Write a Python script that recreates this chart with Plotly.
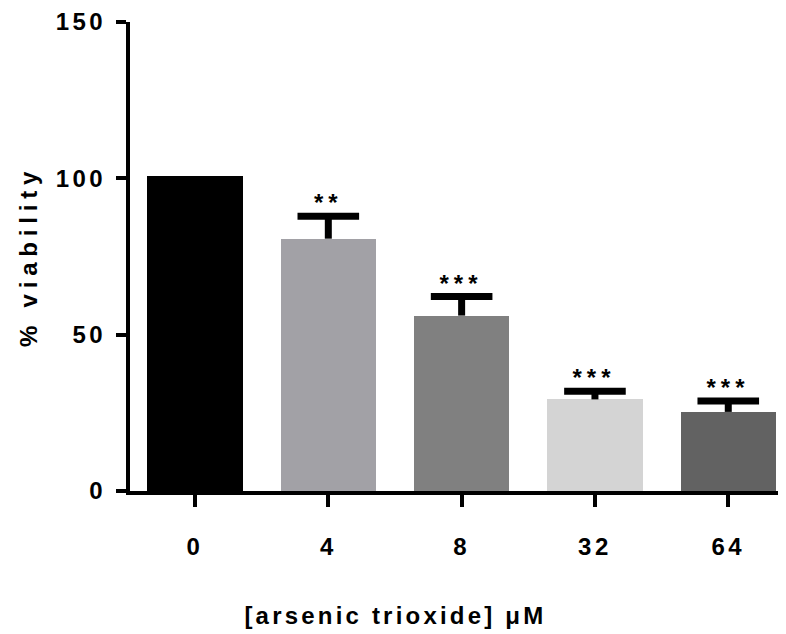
import plotly.graph_objects as go

categories = ["0", "4", "8", "32", "64"]
viability = [100.8, 80.7, 56.1, 29.3, 25.3]
sem = [None, 7.2, 6.1, 2.6, 3.5]
significance = ["", "**", "***", "***", "***"]
bar_colors = ["#000000", "#a2a1a6", "#808080", "#d4d4d4", "#626262"]
y_ticks = [0, 50, 100, 150]
x_title = "[arsenic trioxide] μM"
y_title = "% viability"

FONT = "Liberation Sans, Arial, sans-serif"
xs = list(range(len(categories)))

fig = go.Figure()
fig.add_trace(go.Bar(
    x=xs, y=viability, width=0.716,
    marker=dict(color=bar_colors, line=dict(width=0)),
    showlegend=False, hoverinfo="skip",
))

# upper error bars (stem + cap), drawn from the mean+SEM downwards
err_x = [x for x, e in zip(xs, sem) if e is not None]
err_top = [v + e for v, e in zip(viability, sem) if e is not None]
err_len = [e for e in sem if e is not None]
fig.add_trace(go.Scatter(
    x=err_x, y=err_top, mode="markers",
    marker=dict(symbol="line-ew", size=44, color="#000000",
                line=dict(width=7, color="#000000")),
    error_y=dict(type="data", symmetric=False, array=[0] * len(err_len),
                 arrayminus=err_len, color="#000000", thickness=7, width=0),
    showlegend=False, hoverinfo="skip", cliponaxis=False,
))

for i, (v, e, s) in enumerate(zip(viability, sem, significance)):
    if s:
        fig.add_annotation(x=i, y=v + (e or 0), text=s, showarrow=False,
                           yanchor="bottom", yshift=-2,
                           font=dict(family=FONT, size=24, color="#000000",
                                     weight="bold"))

# x-axis title, centred on the page like the reference
fig.add_annotation(xref="paper", yref="paper", x=0.4006, y=-0.2645,
                   xanchor="center", yanchor="middle", showarrow=False,
                   text=x_title,
                   font=dict(family=FONT, size=24, weight="bold", color="#000000"))

fig.update_layout(
    width=786, height=634,
    margin=dict(l=122, r=0, t=8, b=151),
    plot_bgcolor="white", paper_bgcolor="white",
    font=dict(family=FONT, color="#000000"),
    bargap=0,
)
fig.update_xaxes(
    range=[-0.4875, 4.493],
    tickmode="array", tickvals=xs, ticktext=categories,
    showline=True, linecolor="#000000", linewidth=4,
    ticks="outside", ticklen=12, tickwidth=4, tickcolor="#000000",
    tickfont=dict(family=FONT, size=24, weight="bold"),
    ticklabelstandoff=19,
    showgrid=False, zeroline=False,
)
fig.update_yaxes(
    range=[0, 150],
    tickmode="array", tickvals=y_ticks,
    showline=True, linecolor="#000000", linewidth=4,
    ticks="outside", ticklen=10, tickwidth=4, tickcolor="#000000",
    tickfont=dict(family=FONT, size=24, weight="bold"),
    ticklabelstandoff=5, ticklabeloverflow="allow",
    showgrid=False, zeroline=False,
    title=dict(text=y_title, standoff=23,
               font=dict(family=FONT, size=24, weight="bold")),
)

post = """
function sp(s, v){
  document.querySelectorAll(s).forEach(function(e){ e.style.letterSpacing = v; });
}
sp('.xtick text', '3.5px');
sp('.ytick text', '3.5px');
sp('.g-ytitle text', '5.8px');
document.querySelectorAll('.annotation-text').forEach(function(e){
  e.style.letterSpacing = (e.textContent.indexOf('*') >= 0) ? '5px' : '3.2px';
});
"""
fig.write_html("out.html", post_script=post)
